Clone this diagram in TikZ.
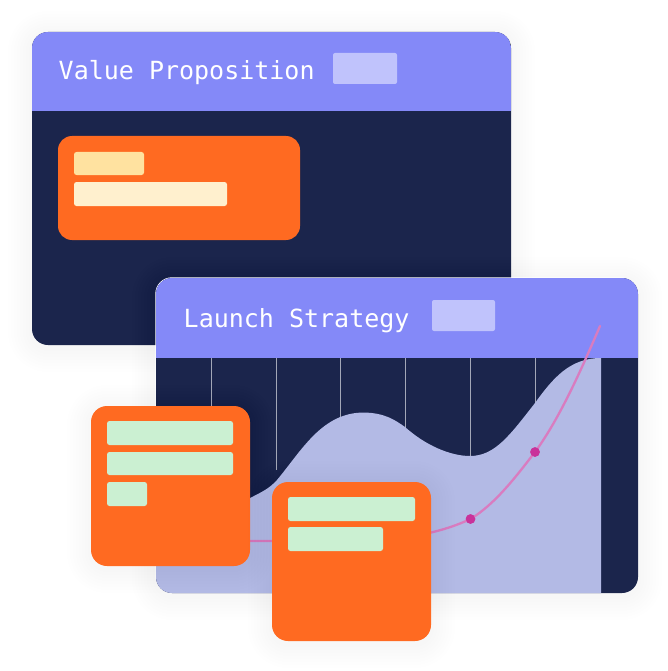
\documentclass[tikz,border=0pt]{standalone}
\usepackage{fontspec}
\setmonofont{DejaVu Sans Mono}
\definecolor{peri}{HTML}{8489F8}
\definecolor{navy}{HTML}{1B254C}
\definecolor{orng}{HTML}{FF6A21}
\definecolor{chipc}{HTML}{C0C3FC}
\definecolor{yell}{HTML}{FFE2A0}
\definecolor{crem}{HTML}{FFF0CE}
\definecolor{gren}{HTML}{CBF0D2}
\definecolor{areac}{HTML}{B3BAE5}
\definecolor{pinkl}{HTML}{D97CC0}
\definecolor{pinkd}{HTML}{C9329A}
\newcommand{\softshadow}[5]{%
  \foreach \s in {3,6,...,24}{%
    \fill[black,opacity=0.002,rounded corners=#5pt+\s pt] (#1-\s,#2-\s+3) rectangle (#3+\s,#4+\s+3);
  }}
\tikzset{
  x=1pt,y=-1pt,
  title/.style={font=\ttfamily\fontsize{25}{25}\selectfont,text=white,anchor=base west,inner sep=0pt},
  chip/.style={fill=chipc,rounded corners=2pt},
  bar/.style={rounded corners=2.5pt},
  grid/.style={draw=white,opacity=0.6,line width=0.9pt},
  dot/.style={circle,fill=pinkd,inner sep=0pt,minimum size=9.5pt}
}
\begin{document}
\begin{tikzpicture}
\useasboundingbox (0,0) rectangle (668,671);
\fill[white] (0,0) rectangle (668,671);
% back card
\softshadow{32}{32}{511}{345}{16}
\fill[navy,rounded corners=16pt] (32,32) rectangle (511,345);
\begin{scope}
\clip[rounded corners=16pt] (32,32) rectangle (511,345);
\fill[peri] (32,32) rectangle (511,111);
\end{scope}
\node[title] (t1) at (58.5,80) {Value Proposition};
\fill[chip] (333,53) rectangle (397,84);
\fill[orng,rounded corners=14pt] (58,136) rectangle (300,240);
\fill[yell,bar] (74,152) rectangle (144,175);
\fill[crem,bar] (74,182) rectangle (227,206);
% front card
\softshadow{156}{278}{638}{593}{16}
\fill[white,rounded corners=16.5pt] (155.3,277.3) rectangle (638,593);
\fill[navy,rounded corners=16pt] (156,278) rectangle (638,593);
\begin{scope}
\clip[rounded corners=16pt] (156,278) rectangle (638,593);
\foreach \gx in {211.5,276.5,340.5,405.5,470,535}{
  \draw[grid] (\gx,358) -- (\gx,470);
}
\fill[areac] (156,593) -- (156,525)
  .. controls (195,522) and (232,512) .. (250,498)
  .. controls (262,492) and (270,488) .. (277,480)
  .. controls (302,450) and (322,412.5) .. (364,412.5)
  .. controls (385,413) and (395,420) .. (405,427)
  .. controls (425,445) and (450,456) .. (470,456)
  .. controls (495,456) and (510,435) .. (535,403)
  .. controls (553,378) and (570,358) .. (601,358)
  -- (601,593) -- cycle;
\fill[peri] (156,278) rectangle (638,358);
\end{scope}
\node[title] (t2) at (183.5,327) {Launch Strategy};
\fill[chip] (432,300) rectangle (495,331);
% curve
\coordinate (c0) at (240,541);
\coordinate (c3) at (600,326);
\node[dot] (d1) at (470.5,519) {};
\node[dot] (d2) at (535,452) {};
\draw[pinkl,line width=2.3pt,line cap=round] (c0) -- (272,541)
  .. controls (350,541) and (415,545) .. (d1.center)
  .. controls (495,504) and (515,478) .. (d2.center)
  .. controls (560,418) and (582,368) .. (c3);
\node[dot] at (d1) {};
\node[dot] at (d2) {};
% orange cards
\softshadow{91}{406}{250}{566}{16}
\fill[orng,rounded corners=16pt] (91,406) rectangle (250,566);
\fill[gren,bar] (107,421) rectangle (233,445);
\fill[gren,bar] (107,452) rectangle (233,475);
\fill[gren,bar] (107,482) rectangle (147,506);
\softshadow{272}{482}{431}{641}{16}
\fill[orng,rounded corners=16pt] (272,482) rectangle (431,641);
\fill[gren,bar] (288,497) rectangle (415,521);
\fill[gren,bar] (288,527) rectangle (383,551);
\end{tikzpicture}
\end{document}
